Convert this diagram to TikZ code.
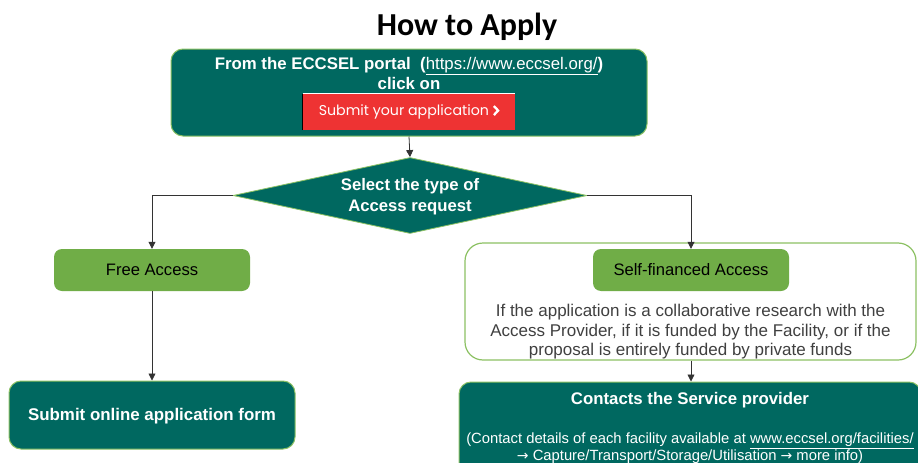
\documentclass[tikz,border=0pt]{standalone}
\usepackage{fontspec}
\setmainfont{Liberation Sans}
\newfontfamily\titlefont{Carlito}
\newfontfamily\btnfont{Poppins}
\newfontfamily\symfont{DejaVu Sans}
\usetikzlibrary{shapes.geometric,arrows.meta}
\definecolor{teal}{RGB}{0,104,96}
\definecolor{lgreen}{RGB}{112,173,71}
\definecolor{bgreen}{RGB}{140,193,99}
\definecolor{btnred}{RGB}{238,51,51}
\definecolor{greytext}{RGB}{64,64,64}
\newcommand{\chev}{\tikz[baseline=0pt]{\draw[white, line width=2.3pt, line cap=butt, line join=miter] (0pt,9.5pt) -- (4.2pt,5pt) -- (0pt,0.5pt);}}
\newcommand{\rarr}{{\symfont\fontsize{14}{17}\selectfont →}}
\tikzset{
  x=1pt, y=-1pt,
  tealbox/.style={draw=bgreen, line width=1pt, fill=teal, rounded corners=12pt, text=white, font=\bfseries, align=center, inner sep=0pt},
  greenbox/.style={fill=lgreen, rounded corners=8pt, text=black, font=\fontsize{16.6}{19}\selectfont, minimum width=196pt, minimum height=42pt, inner sep=0pt, text depth=0.5pt},
  conn/.style={draw=black!80, line width=0.8pt, -{Triangle[length=7pt,width=7pt]}}
}
\begin{document}
\begin{tikzpicture}
\useasboundingbox (0,0) rectangle (918,463);
\fill[white] (0,0) rectangle (918,463);

\node[font=\titlefont\bfseries\fontsize{32}{36}\selectfont] (title) at (467,27) {How to Apply};

\node[tealbox, minimum width=476pt, minimum height=87pt] (portal) at (409,92.5) {};
\node[text=white, font=\bfseries\fontsize{16.8}{20}\selectfont, align=center] (portaltxt) at (409,73.5) {From the ECCSEL portal\ \ (\underline{\mdseries https://www.eccsel.org/})\\click on};
\node[fill=btnred, minimum width=212pt, minimum height=36pt, inner sep=0pt, text=white, font=\btnfont\fontsize{14.2}{16}\selectfont] (button) at (409,112) {Submit your application \chev};
\draw[white, line width=1pt] (button.north west) -- (button.north east);
\draw[black, line width=1pt] (button.north west) -- (button.south west);

\node[diamond, aspect=4.66, draw=bgreen, line width=0.8pt, fill=teal, minimum width=354pt, minimum height=76pt, inner sep=0pt] (select) at (410,195.5) {};
\node[text=white, font=\bfseries\fontsize{16.7}{21}\selectfont, align=center] (selecttxt) at (410,197) {Select the type of\\Access request};

\node[greenbox] (free) at (152,270) {Free Access};
\node[tealbox, minimum width=286pt, minimum height=68pt, font=\bfseries\fontsize{16.9}{19}\selectfont, text depth=1pt] (online) at (152,415) {Submit online application form};

\node[draw=bgreen, line width=1.2pt, fill=white, rounded corners=18pt, minimum width=451pt, minimum height=117pt, inner sep=0pt] (outer) at (690.5,301.5) {};
\node[greenbox] (self) at (691,270) {Self-financed Access};
\node[text=greytext, font=\fontsize{17}{19.5}\selectfont, align=center] (cond) at (690.5,332) {If the application is a collaborative research with the\\Access Provider, if it is funded by the Facility, or if the\\proposal is entirely funded by private funds};

\node[tealbox, minimum width=462pt, minimum height=95pt] (contact) at (690,429.5) {};
\node[text=white, font=\bfseries\fontsize{16.8}{19}\selectfont] (contacttitle) at (690,400) {Contacts the Service provider};
\node[text=white, font=\fontsize{14.8}{17}\selectfont, align=center] (contacttxt) at (690,448.5) {(Contact details of each facility available at \underline{www.eccsel.org/facilities/}\\\rarr\ Capture/Transport/Storage/Utilisation \rarr\ more info)};

\draw[conn] (portal.south) -- (select.north);
\draw[conn] (select.west) -| (free.north);
\draw[conn] (select.east) -| (self.north);
\draw[conn] (free.south) -- (online.north);
\draw[conn] (outer.south -| self.south) -- (contact.north -| self.south);
\end{tikzpicture}
\end{document}
